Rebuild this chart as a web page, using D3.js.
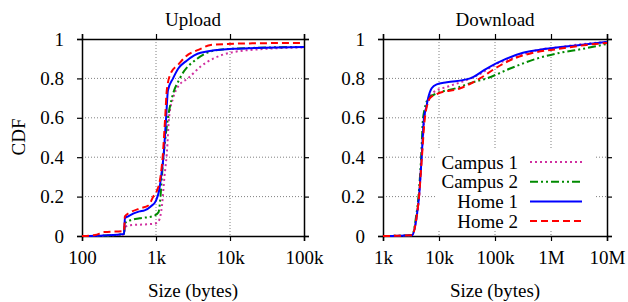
<!DOCTYPE html>
<html>
<head>
<meta charset="utf-8">
<script src="https://d3js.org/d3.v7.min.js"></script>
<style>
body { margin: 0; background: #fff; }
text { font-family: "Liberation Serif", "DejaVu Serif", serif; font-size: 19px; fill: #000; }
</style>
</head>
<body>
<svg id="chart" width="628" height="302"></svg>
<script>
// series names and styles come in this order (gnuplot plot order)
var seriesNames = ["Campus 1", "Campus 2", "Home 1", "Home 2"];

// upload CDFs: [size in bytes, cdf]
var upCampus1 = [[100,0],[200,0.002],[370,0.008],[380,0.045],[450,0.055],[800,0.06],[1000,0.065],
    [1100,0.08],[1200,0.15],[1300,0.3],[1400,0.42],[1500,0.6],[1700,0.7],[2000,0.76],[2700,0.8],
    [4000,0.86],[5900,0.9],[10000,0.93],[30000,0.95],[100000,0.957]];
var upCampus2 = [[100,0],[200,0.002],[370,0.01],[380,0.065],[450,0.08],[600,0.09],[900,0.1],
    [1080,0.12],[1150,0.2],[1200,0.3],[1300,0.45],[1450,0.6],[1640,0.7],[2100,0.8],[3600,0.9],
    [5900,0.94],[10000,0.95],[100000,0.96]];
var upHome1 = [[100,0],[200,0.003],[370,0.01],[380,0.09],[420,0.1],[500,0.115],[600,0.125],
    [700,0.13],[850,0.15],[1000,0.18],[1100,0.23],[1200,0.33],[1260,0.4],[1370,0.6],[1450,0.74],
    [1700,0.8],[2000,0.85],[2600,0.89],[4000,0.93],[11000,0.95],[100000,0.96]];
var upHome2 = [[100,0],[150,0.005],[200,0.02],[370,0.025],[380,0.1],[450,0.12],[610,0.14],
    [790,0.155],[920,0.2],[1030,0.23],[1150,0.3],[1230,0.4],[1330,0.6],[1400,0.74],[1600,0.83],
    [2000,0.87],[2500,0.91],[4000,0.95],[5500,0.97],[20000,0.978],[100000,0.98]];

// download CDFs
var downCampus1 = [[1000,0],[3300,0.004],[4000,0.1],[4400,0.2],[4900,0.4],[5500,0.6],[6400,0.68],
    [8000,0.73],[15000,0.76],[30000,0.79],[60000,0.83],[100000,0.87],[200000,0.9],[500000,0.94],
    [1500000,0.96],[5000000,0.978],[10000000,0.985]];
var downCampus2 = [[1000,0],[3300,0.004],[3900,0.1],[4300,0.2],[4800,0.4],[5200,0.6],[6500,0.7],
    [8500,0.72],[20000,0.75],[40000,0.78],[71000,0.8],[186000,0.85],[550000,0.9],[1450000,0.93],
    [3700000,0.95],[10000000,0.975]];
var downHome1 = [[1000,0],[3300,0.004],[4000,0.1],[4400,0.2],[4900,0.4],[5400,0.6],[5900,0.65],
    [6400,0.7],[7400,0.75],[9100,0.77],[13800,0.78],[36000,0.8],[71000,0.85],[160000,0.9],
    [316000,0.93],[830000,0.95],[3300000,0.97],[10000000,0.985]];
var downHome2 = [[1000,0],[3300,0.004],[4000,0.1],[4400,0.2],[4950,0.4],[5600,0.6],[6900,0.7],
    [9100,0.72],[24000,0.75],[54000,0.8],[100000,0.85],[215000,0.9],[480000,0.93],[1400000,0.95],
    [4300000,0.97],[10000000,0.98]];

var upTicks = [100, 1000, 10000, 100000];
var upTickLabels = ["100", "1k", "10k", "100k"];
var downTicks = [1000, 10000, 100000, 1000000, 10000000];
var downTickLabels = ["1k", "10k", "100k", "1M", "10M"];
var yTicks = [0, 0.2, 0.4, 0.6, 0.8, 1];
var yTickLabels = ["0", "0.2", "0.4", "0.6", "0.8", "1"];

var colors = ["#d030a0", "#008a00", "#0000ff", "#ff0000"];
var dashes = ["2,3", "8,3,2,3,2,3", null, "7,4"];

var svg = d3.select("#chart");
var plotTop = 39, plotBottom = 236;

function panel(x0, x1, domain, ticks, labels, title, series) {
    var xScale = d3.scaleLog().domain(domain).range([x0, x1]);
    var yScale = d3.scaleLinear().domain([0, 1]).range([plotBottom, plotTop]);
    var g = svg.append("g");

    // dotted grid
    g.selectAll(".vgrid").data(ticks.slice(1, -1)).enter().append("line")
        .attr("x1", function (d) { return xScale(d); })
        .attr("x2", function (d) { return xScale(d); })
        .attr("y1", plotTop).attr("y2", plotBottom)
        .style("stroke", "#808080").style("stroke-dasharray", "1,2");
    g.selectAll(".hgrid").data(yTicks.slice(1, -1)).enter().append("line")
        .attr("x1", x0).attr("x2", x1)
        .attr("y1", function (d) { return yScale(d); })
        .attr("y2", function (d) { return yScale(d); })
        .style("stroke", "#808080").style("stroke-dasharray", "1,2");

    // axes on all four sides, ticks outward
    var fmtX = function (d, i) { return labels[i]; };
    g.append("g").attr("transform", "translate(0," + plotBottom + ")")
        .call(d3.axisBottom(xScale).tickValues(ticks).tickFormat(fmtX).tickSize(5).tickPadding(10));
    g.append("g").attr("transform", "translate(0," + plotTop + ")")
        .call(d3.axisTop(xScale).tickValues(ticks).tickFormat("").tickSize(5));
    g.append("g").attr("transform", "translate(" + x0 + ",0)")
        .call(d3.axisLeft(yScale).tickValues(yTicks)
            .tickFormat(function (d, i) { return yTickLabels[i]; }).tickSize(5).tickPadding(13));
    g.append("g").attr("transform", "translate(" + x1 + ",0)")
        .call(d3.axisRight(yScale).tickValues(yTicks).tickFormat("").tickSize(5));
    g.selectAll(".domain").style("stroke-width", 1.5);
    g.selectAll(".tick line").style("stroke-width", 1.2);
    g.selectAll(".tick text").style("font-family", "'Liberation Serif', serif")
        .style("font-size", "19px").style("fill", "#000");

    var line = d3.line()
        .x(function (d) { return xScale(d[0]); })
        .y(function (d) { return yScale(d[1]); })
        .curve(d3.curveMonotoneX);

    series.forEach(function (s, i) {
        g.append("path").attr("d", line(s))
            .style("fill", "none")
            .style("stroke", colors[i])
            .style("stroke-width", 2)
            .style("stroke-dasharray", dashes[i]);
    });

    g.append("text").attr("x", (x0 + x1) / 2).attr("y", 26)
        .attr("text-anchor", "middle").text(title);
    g.append("text").attr("x", (x0 + x1) / 2).attr("y", 297)
        .attr("text-anchor", "middle").text("Size (bytes)");
    return g;
}

panel(82, 304, [100, 100000], upTicks, upTickLabels, "Upload",
    [upCampus1, upCampus2, upHome1, upHome2]);
panel(383, 607, [1000, 10000000], downTicks, downTickLabels, "Download",
    [downCampus1, downCampus2, downHome1, downHome2]);

svg.append("text").attr("transform", "translate(25,137) rotate(-90)")
    .attr("text-anchor", "middle").text("CDF");

// legend with opaque box
var legend = svg.append("g");
legend.append("rect").attr("x", 437).attr("y", 150).attr("width", 158).attr("height", 81)
    .style("fill", "#fff");
seriesNames.forEach(function (name, i) {
    var y = 162 + i * 19.7;
    legend.append("text").attr("x", 518).attr("y", y + 6.5)
        .attr("text-anchor", "end").text(name);
    legend.append("line").attr("x1", 530).attr("x2", 582).attr("y1", y).attr("y2", y)
        .style("stroke", colors[i]).style("stroke-width", 2)
        .style("stroke-dasharray", dashes[i]);
});
</script>
</body>
</html>
